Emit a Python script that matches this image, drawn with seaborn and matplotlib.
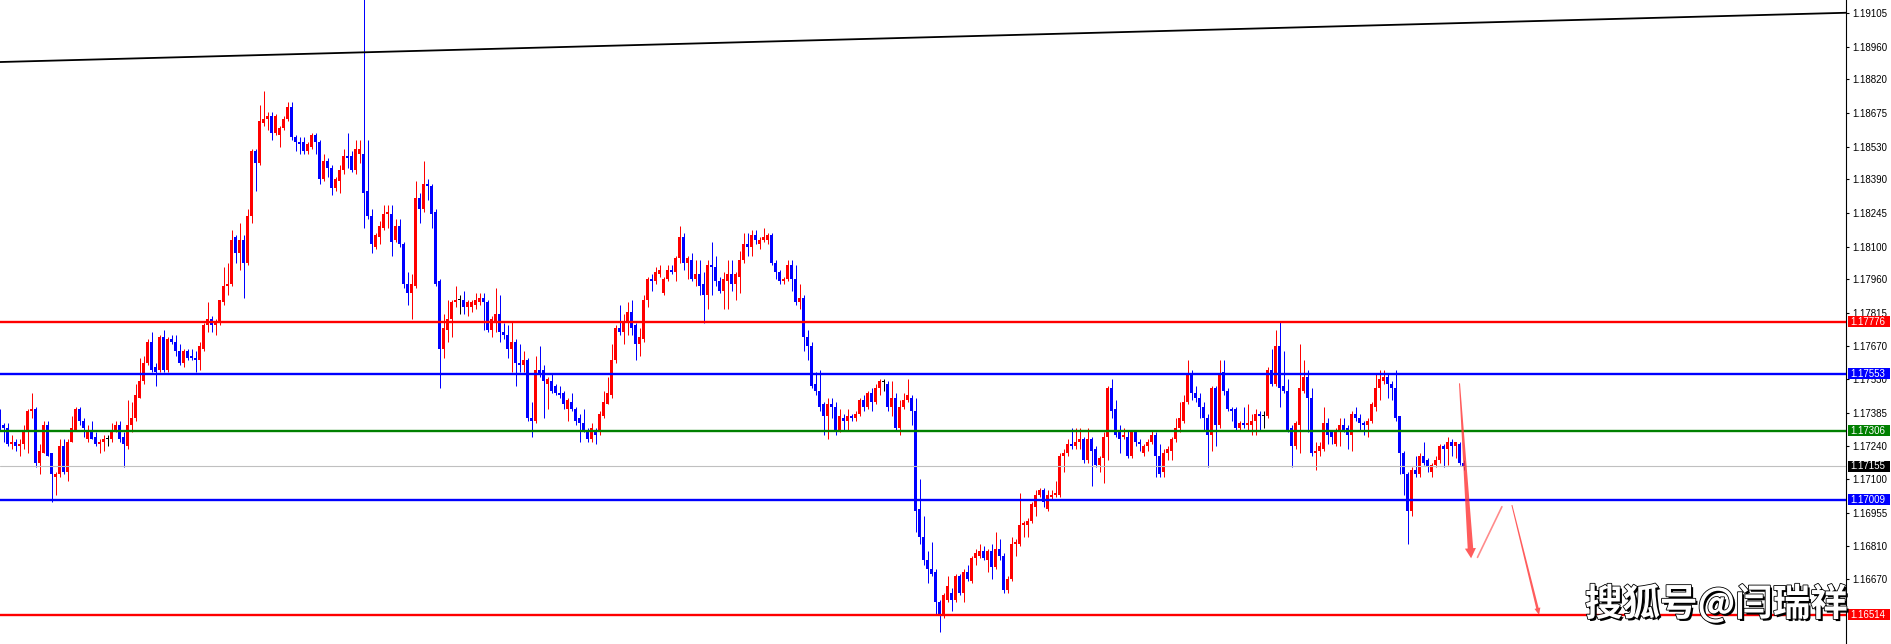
"""EURUSD-style candlestick chart with support/resistance levels."""

import numpy as np
import matplotlib
matplotlib.use("Agg")
import matplotlib.pyplot as plt
import matplotlib.patheffects as pe
from matplotlib.patches import Rectangle, Polygon
from matplotlib.transforms import blended_transform_factory
import seaborn as sns

# prices are stored as pips above BASE
BASE = 1.17000
PIP = 0.0001

open_pips = [
    39, 33, 32, 25, 26, 24, 25, 30, 39, 40,
    17, 21, 33, 21, 11, 12, 24, 13, 26, 31,
    40, 35, 27, 31, 28, 25, 26, 27, 27, 30,
    33, 28, 24, 33, 36, 45, 52, 60, 69, 58,
    57, 71, 57, 70, 69, 65, 60, 65, 63, 62,
    61, 66, 76, 79, 76, 78, 86, 93, 94, 114,
    107, 113, 103, 123, 151, 146, 163, 165, 166, 159,
    158, 161, 165, 170, 157, 155, 155, 151, 153, 158,
    155, 139, 147, 144, 135, 138, 143, 149, 149, 143,
    150, 150, 134, 123, 110, 114, 118, 124, 124, 113,
    119, 111, 94, 90, 93, 131, 126, 137, 136, 125,
    95, 66, 74, 79, 86, 87, 87, 84, 84, 85,
    86, 88, 86, 74, 78, 81, 73, 72, 66, 69,
    60, 59, 61, 36, 35, 57, 57, 51, 52, 50,
    47, 47, 40, 43, 40, 36, 34, 31, 27, 31,
    30, 37, 42, 46, 61, 75, 73, 78, 82, 76,
    68, 70, 87, 96, 95, 98, 90, 96, 100, 99,
    105, 114, 103, 104, 96, 98, 94, 89, 102, 101,
    95, 91, 95, 98, 94, 97, 104, 111, 110, 115,
    111, 113, 113, 115, 103, 99, 95, 96, 102, 96,
    86, 88, 71, 67, 51, 48, 42, 37, 42, 41,
    31, 36, 35, 37, 36, 38, 44, 41, 47, 43,
    49, 51.5, 51, 41, 45, 32, 41, 44, 45, 39,
    -3, -15, -25, -29, -30, -43, -49, -42, -39, -42,
    -32, -39, -30, -34, -24, -23, -21, -25, -21, -28,
    -20, -23, -38, -33, -18, -18, -10, -10, -8, -2,
    3, 5, -3, 2, 3, 3, 20, 21, 25, 24,
    26, 27, 18, 27, 23, 16, 19, 28, 49, 40,
    30, 28, 28, 20, 30, 26, 21, 24, 26, 29,
    20, 13, 21, 22, 27, 32, 35, 43, 55, 47,
    45, 41, 36, 29, 49, 33, 56, 48, 40, 40,
    32, 34, 33, 33, 35, 38, 37, 37, 57, 51,
    67, 50, 48, 32, 24, 33, 48, 54, 45, 21,
    22, 23, 34, 30, 25, 30, 33, 32, 29, 38,
    36, 34, 33, 35, 41, 49, 52, 54, 51, 49,
    37, 21, 12, -4, 14, 12, 20, 18, 13, 16,
    18, 24, 23, 26, 24, 25, 17,
]

high_pips = [
    40, 34, 34, 29, 27, 27, 33, 40, 47, 41,
    25, 35, 35, 21, 13, 27, 27, 27, 37, 41,
    41, 36, 33, 35, 30, 27, 29, 29, 34, 35,
    35, 30, 44, 43, 51, 62, 63, 70, 73, 60,
    72, 74, 71, 72, 72, 68, 66, 66, 66, 65,
    69, 77, 86, 80, 79, 87, 101, 103, 117, 115,
    120, 115, 126, 152, 152, 171, 177, 168, 168, 167,
    162, 166, 172, 172, 158, 157, 157, 155, 159, 159,
    156, 150, 148, 145, 140, 145, 152, 159, 151, 156,
    156, 230, 156, 126, 116, 121, 128, 128, 128, 122,
    122, 112, 99, 98, 138, 133, 147, 139, 137, 126,
    96, 81, 87, 87, 93, 89, 91, 87, 87, 90,
    90, 90, 87, 80, 92, 89, 77, 76, 78, 70,
    68, 65, 62, 43, 63, 67, 59, 54, 55, 51,
    50, 48, 45, 47, 41, 38, 40, 32, 34, 32,
    39, 48, 54, 68, 76, 85, 81, 86, 87, 77,
    75, 89, 97, 98, 101, 102, 97, 102, 102, 106,
    119, 116, 106, 107, 104, 104, 99, 104, 112, 106,
    97, 99, 104, 104, 99, 108, 116, 116, 117, 117,
    114, 118, 116, 116, 104, 100, 97, 104, 104, 102,
    94, 89, 74, 69, 56, 57, 43, 45, 45, 43,
    40, 38, 40, 38, 39, 45, 46, 48, 49, 51,
    53, 53, 52, 52, 47, 44, 47, 53, 46, 45,
    10, -6, -21, -17, -29, -42, -39, -32, -37, -31,
    -31, -29, -27, -23, -20, -18, -19, -20, -18, -13,
    -16, -22, -32, -15, -16, 4, -8, -7, 0, 5,
    6, 6, 5, 5, 9, 21, 23, 27, 32, 32,
    32, 28, 32, 28, 24, 20, 30, 50, 53, 44,
    33, 32, 31, 31, 31, 27, 25, 27, 31, 30,
    25, 23, 24, 28, 36, 43, 46, 61, 57, 50,
    47, 43, 38, 50, 50, 61, 61, 49, 41, 41,
    35, 41, 42, 38, 40, 39, 39, 58, 66, 74,
    78, 65, 53, 33, 35, 68, 61, 57, 49, 26,
    26, 41, 36, 31, 32, 36, 36, 33, 39, 41,
    38, 35, 36, 43, 55, 57, 57, 55, 52, 57,
    37, 22, 13, 15, 20, 21, 26, 19, 17, 20,
    25, 25, 28, 27, 26, 26, 18,
]

low_pips = [
    31, 26, 24, 23, 22, 20, 23, 21, 36, 15,
    12, 21, 20, 0, 3, 11, 12, 9, 26, 31,
    33, 28, 26, 27, 24, 21, 22, 24, 26, 30,
    26, 15, 23, 30, 35, 45, 51, 59, 56, 50,
    56, 56, 56, 68, 63, 59, 58, 61, 61, 56,
    57, 65, 73, 73, 72, 76, 85, 89, 93, 103,
    100, 88, 102, 120, 134, 145, 162, 160, 156, 158,
    153, 160, 164, 156, 151, 150, 150, 150, 152, 150,
    137, 138, 140, 132, 134, 133, 141, 144, 142, 141,
    146, 118, 122, 107, 109, 111, 117, 118, 106, 112,
    110, 92, 85, 79, 92, 120, 125, 130, 118, 93,
    49, 62, 69, 71, 84, 81, 81, 80, 82, 83,
    85, 74, 73, 71, 73, 69, 70, 62, 56, 50,
    56, 56, 35, 28, 34, 54, 36, 40, 47, 46,
    45, 40, 35, 39, 33, 26, 30, 26, 26, 25,
    29, 36, 42, 45, 60, 72, 68, 72, 72, 61,
    63, 69, 84, 91, 94, 97, 89, 95, 98, 95,
    103, 100, 96, 95, 93, 89, 77, 83, 89, 93,
    90, 83, 83, 91, 87, 90, 103, 106, 106, 111,
    109, 112, 111, 102, 96, 94, 94, 95, 91, 85,
    83, 65, 61, 49, 46, 39, 29, 27, 36, 29,
    30, 31, 31, 35, 35, 37, 39, 40, 39, 42,
    46, 48, 39, 37, 31, 29, 40, 43, 33, -13,
    -18, -27, -35, -32, -48, -56, -50, -43, -47, -43,
    -40, -43, -34, -35, -27, -24, -25, -30, -33, -29,
    -25, -39, -39, -34, -23, -19, -15, -15, -9, -6,
    2, -2, -4, 1, 2, 2, 13, 20, 23, 23,
    23, 17, 17, 7, 15, 13, 8, 18, 36, 28,
    21, 27, 19, 19, 24, 22, 20, 22, 25, 11,
    11, 11, 18, 18, 26, 30, 34, 42, 44, 43,
    36, 31, 15, 22, 24, 32, 46, 39, 35, 31,
    31, 32, 31, 29, 29, 31, 32, 36, 50, 50,
    41, 47, 30, 15, 23, 21, 47, 30, 20, 14,
    20, 22, 25, 25, 24, 24, 30, 23, 22, 35,
    31, 29, 28, 34, 39, 44, 51, 45, 44, 35,
    12, 3, -18, -6, 11, 11, 16, 13, 11, 15,
    17, 15, 16, 20, 19, 16, 14,
]

close_pips = [
    32, 32, 25, 26, 24, 25, 30, 39, 40, 17,
    22, 33, 20, 12, 12, 24, 13, 26, 32, 40,
    35, 32, 31, 27, 25, 26, 27, 27, 31, 33,
    27, 25, 33, 36, 46, 52, 60, 69, 57, 56,
    71, 57, 70, 69, 65, 60, 65, 62, 62, 61,
    67, 76, 79, 76, 78, 87, 93, 94, 113, 107,
    113, 103, 123, 151, 146, 164, 165, 166, 159, 166,
    161, 165, 170, 157, 155, 154, 151, 154, 158, 155,
    139, 147, 144, 135, 139, 143, 149, 148, 143, 152,
    152, 133, 123, 111, 115, 119, 124, 125, 112, 119,
    111, 94, 90, 94, 131, 126, 137, 136, 124, 94,
    66, 75, 79, 86, 87, 87, 84, 86, 86, 87,
    88, 86, 74, 79, 81, 73, 72, 66, 69, 60,
    59, 61, 36, 35, 57, 55, 52, 53, 48, 47,
    46, 42, 44, 40, 35, 34, 31, 27, 32, 29,
    38, 43, 47, 61, 75, 73, 78, 82, 75, 68,
    71, 87, 96, 95, 99, 100, 96, 100, 99, 105,
    114, 103, 105, 96, 98, 93, 89, 102, 101, 95,
    91, 96, 98, 94, 98, 104, 111, 110, 115, 113,
    113, 114, 115, 103, 99, 95, 96, 102, 96, 86,
    88, 71, 67, 50, 48, 41, 37, 42, 41, 31,
    37, 35, 37, 36, 38, 44, 41, 47, 43, 49,
    52, 51.5, 41, 45, 32, 41, 44, 46, 39, -4,
    -15, -25, -29, -31, -43, -48, -40, -36, -42, -32,
    -39, -30, -33, -24, -22, -21, -24, -21, -28, -20,
    -23, -38, -33, -18, -17, -10, -9, -8, -1, 3,
    5, 0, 3, 3, 4, 20, 21, 25, 24, 26,
    27, 18, 27, 22, 16, 19, 28, 49, 39, 29,
    27, 29, 20, 30, 26, 25, 24, 26, 29, 20,
    12, 21, 23, 27, 32, 36, 43, 55, 47, 45,
    41, 36, 29, 49, 33, 55, 48, 40, 39, 32,
    34, 33, 34, 35, 38, 37, 37, 57, 51, 67,
    49, 48, 31, 24, 34, 49, 54, 45, 21, 22,
    24, 34, 29, 28, 31, 33, 31, 29, 38, 36,
    34, 33, 35, 42, 49, 53, 54, 51, 49, 36,
    21, 12, -4, 14, 12, 20, 17, 15, 16, 18,
    24, 23, 26, 24, 26, 17, 15,
]

# horizontal levels drawn on the chart
level_prices = [1.17776, 1.17553, 1.17306, 1.17155, 1.17009, 1.16514]
level_line_colors = ['#FF0000', '#0000FF', '#008000', '#C0C0C0', '#0000FF', '#FF0000']
level_box_colors = ['#FF0000', '#0000FF', '#008000', '#000000', '#0000FF', '#FF0000']

# price scale labels on the right
tick_prices = [1.19105, 1.18960, 1.18820, 1.18675, 1.18530, 1.18390, 1.18245,
               1.18100, 1.17960, 1.17815, 1.17670, 1.17530, 1.17385, 1.17240,
               1.17100, 1.16955, 1.16810, 1.16670]

# long black trend line (bar index, price)
trend_x = [0.125, 461.625]
trend_y = [1.18894, 1.19106]

# hand drawn red projection arrows (bar index, price)
arrow_main = [(365.0, 1.17511), (367.9, 1.16758)]
arrow_bounce = [(369.5, 1.16762), (375.6, 1.16980)]
arrow_target = [(378.1, 1.16987), (384.9, 1.16514)]

watermark = "搜狐号@闫瑞祥"

W, H = 1891, 644
AX_RIGHT_PX = 1846
PX_PER_PRICE = 23234.0


def tapered_arrow(ax, p0, p1, w0, w1, head_w, head_l, color):
    """Arrow whose shaft widens from p0 to the head (widths in pixels)."""
    d0 = ax.transData.transform(p0)
    d1 = ax.transData.transform(p1)
    u = (d1 - d0) / np.hypot(*(d1 - d0))
    nrm = np.array([-u[1], u[0]])
    base = d1 - u * head_l
    pts = [d0 + nrm * w0 / 2, base + nrm * w1 / 2, base + nrm * head_w / 2, d1,
           base - nrm * head_w / 2, base - nrm * w1 / 2, d0 - nrm * w0 / 2]
    pts = ax.transData.inverted().transform(np.array(pts))
    ax.add_patch(Polygon(pts, closed=True, facecolor=color, edgecolor='none', zorder=4))


sns.set_theme(style="white")
plt.rcParams['font.family'] = ['Liberation Sans', 'DejaVu Sans']

n = min(len(open_pips), len(high_pips), len(low_pips), len(close_pips))
o = BASE + np.array(open_pips[:n], dtype=float) * PIP
h = BASE + np.array(high_pips[:n], dtype=float) * PIP
l = BASE + np.array(low_pips[:n], dtype=float) * PIP
c = BASE + np.array(close_pips[:n], dtype=float) * PIP
x = np.arange(n)

colors = np.where(c > o, '#FF0000', np.where(c < o, '#0000FF', '#000000'))
min_body = 1.0 / PX_PER_PRICE  # about one pixel
body_bottom = np.minimum(o, c)
body_height = np.maximum(np.abs(c - o), min_body)

fig = plt.figure(figsize=(W / 100, H / 100), dpi=100, facecolor='white')
ax = fig.add_axes([0, 0, AX_RIGHT_PX / W, 1])
ax.set_facecolor('white')

ax.vlines(x, l, h, colors=colors, linewidth=0.72, zorder=2)
ax.bar(x, body_height, bottom=body_bottom, width=0.75, color=colors,
       linewidth=0, zorder=2.1)

sns.lineplot(x=trend_x, y=trend_y, color='black', linewidth=1.3, ax=ax, zorder=3)

for price, col in zip(level_prices, level_line_colors):
    lw = 0.8 if col == '#C0C0C0' else 1.7
    ax.axhline(price, color=col, linewidth=lw, zorder=3)

ax.set_xlim(0.125, 0.125 + AX_RIGHT_PX / 4)
ax.set_ylim(1.19105 - (H - 13) / PX_PER_PRICE, 1.19105 + 13 / PX_PER_PRICE)

# arrows (drawn after limits so pixel widths are right)
tapered_arrow(ax, arrow_main[0], arrow_main[1], 1.0, 5.5, 11, 10, (1, 0.2, 0.2, 0.8))
ax.plot([p[0] for p in arrow_bounce], [p[1] for p in arrow_bounce],
        color=(1, 0.3, 0.3, 0.65), linewidth=1.2, zorder=4)
tapered_arrow(ax, arrow_target[0], arrow_target[1], 1.0, 2.5, 6, 7, (1, 0.2, 0.2, 0.8))

for side in ['left', 'top', 'bottom']:
    ax.spines[side].set_visible(False)
ax.spines['right'].set_color('black')
ax.spines['right'].set_linewidth(0.8)

ax.set_xticks([])
ax.yaxis.tick_right()
ax.set_yticks(tick_prices)
ax.set_yticklabels([f"{p:.5f}" for p in tick_prices])
ax.tick_params(axis='y', direction='out', length=2.5, width=0.8, pad=2,
               labelsize=7, colors='black')
ax.grid(False)

# coloured price boxes on the scale
trans = blended_transform_factory(fig.transFigure, ax.transData)
box_h = 11 / PX_PER_PRICE
for price, col in zip(level_prices, level_box_colors):
    ax.add_patch(Rectangle((1848 / W, price - box_h / 2), 42 / W, box_h,
                           transform=trans, facecolor=col, edgecolor='none',
                           clip_on=False, zorder=5))
    ax.text(1850.5 / W, price, f"{price:.5f}", transform=trans, color='white',
            fontsize=7, ha='left', va='center', zorder=6, clip_on=False)

fig.text(1585 / W, 1 - 604 / H, watermark, fontsize=27, fontweight='bold',
         family=['Noto Sans CJK SC', 'DejaVu Sans'], color='white',
         ha='left', va='center', zorder=10,
         path_effects=[pe.SimplePatchShadow(offset=(1.5, -1.5), shadow_rgbFace='black', alpha=1.0),
                       pe.Stroke(linewidth=1.2, foreground='black'),
                       pe.Normal()])

fig.savefig('out.png', dpi=100, facecolor='white')
